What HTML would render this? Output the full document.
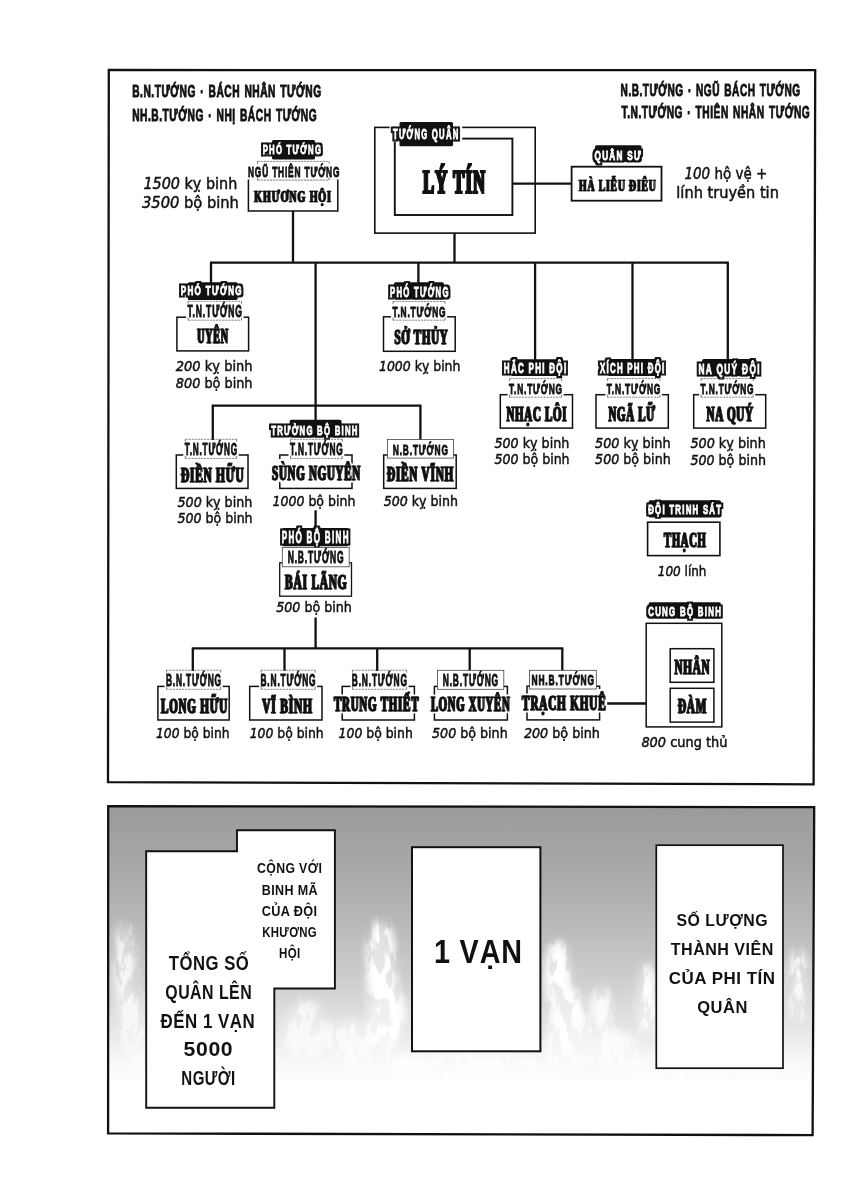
<!DOCTYPE html>
<html lang="vi">
<head>
<meta charset="utf-8">
<title>Sơ đồ Phi Tín Quân</title>
<style>
html,body{margin:0;padding:0;background:#fff;}
body{width:850px;height:1200px;overflow:hidden;}
svg{display:block;filter:grayscale(1);}
text{font-kerning:normal;}
.lg{font-family:"Liberation Sans",sans-serif;font-weight:700;fill:#111;stroke:#111;stroke-width:0.9px;letter-spacing:0.05em;word-spacing:0.1em;}
.bl{font-family:"Liberation Sans",sans-serif;font-weight:700;fill:#fff;stroke:#fff;stroke-width:0.9px;letter-spacing:0.16em;filter:url(#ol);}
.lbh .bl{filter:url(#olh);}
.rk{font-family:"Liberation Sans",sans-serif;font-weight:700;fill:#111;letter-spacing:0.1em;stroke:#111;stroke-width:0.95px;}
.nm,.nmh,.nmL,.nmS{font-family:"Liberation Serif",serif;font-weight:700;fill:#111;letter-spacing:0.07em;stroke:#111;stroke-width:0.8px;stroke-linejoin:miter;stroke-miterlimit:2;filter:url(#fat);}
.nmh{filter:url(#nh);}
.nmL{stroke-width:2px;}
.nmS{stroke-width:0.6px;letter-spacing:0.09em;filter:url(#fat2);}
.hd{font-family:"DejaVu Sans","Liberation Sans",sans-serif;font-weight:400;fill:#111;stroke:#111;stroke-width:0.5px;}
.it{font-style:italic;}
.cm{font-family:"Liberation Sans",sans-serif;font-weight:700;fill:#111;letter-spacing:0.03em;}
</style>
</head>
<body>
<svg width="850" height="1200" viewBox="0 0 850 1200">
<defs>
<linearGradient id="bg" x1="0" y1="0" x2="0" y2="1">
<stop offset="0" stop-color="#9a9a9a"/>
<stop offset="0.21" stop-color="#aaaaaa"/>
<stop offset="0.384" stop-color="#bcbcbc"/>
<stop offset="0.555" stop-color="#d2d2d2"/>
<stop offset="0.672" stop-color="#e5e5e5"/>
<stop offset="0.75" stop-color="#f3f3f3"/>
<stop offset="0.84" stop-color="#ffffff"/>
<stop offset="1" stop-color="#ffffff"/>
</linearGradient>
<clipPath id="pclip"><polygon points="108.2,806.2 814.2,807.1 812.6,1135.1 108.1,1133.4"/></clipPath>
<filter id="blur" x="-20%" y="-20%" width="140%" height="140%"><feGaussianBlur stdDeviation="5"/></filter>
<filter id="wisp" x="0" y="0" width="100%" height="100%" color-interpolation-filters="sRGB"><feTurbulence type="fractalNoise" baseFrequency="0.09 0.035" numOctaves="4" seed="11" result="n"/><feColorMatrix in="n" type="matrix" values="0 0 0 0 1  0 0 0 0 1  0 0 0 0 1  9 0 0 0 -3.9"/></filter>
<filter id="ol" x="-10%" y="-40%" width="120%" height="180%" color-interpolation-filters="sRGB"><feMorphology in="SourceAlpha" operator="dilate" radius="2" result="d"/><feFlood flood-color="#111"/><feComposite in2="d" operator="in" result="o"/><feMerge><feMergeNode in="o"/><feMergeNode in="SourceGraphic"/></feMerge></filter>
<filter id="olh" x="-10%" y="-40%" width="120%" height="180%" color-interpolation-filters="sRGB"><feMorphology in="SourceAlpha" operator="dilate" radius="3" result="d2"/><feFlood flood-color="#fff"/><feComposite in2="d2" operator="in" result="h"/><feMorphology in="SourceAlpha" operator="dilate" radius="2" result="d"/><feFlood flood-color="#111"/><feComposite in2="d" operator="in" result="o"/><feMerge><feMergeNode in="h"/><feMergeNode in="o"/><feMergeNode in="SourceGraphic"/></feMerge></filter>
<filter id="fat2" x="-10%" y="-40%" width="120%" height="180%" color-interpolation-filters="sRGB"><feOffset in="SourceGraphic" dx="0.5" dy="0" result="a"/><feMerge><feMergeNode in="SourceGraphic"/><feMergeNode in="a"/></feMerge></filter>
<filter id="fat" x="-10%" y="-40%" width="120%" height="180%" color-interpolation-filters="sRGB"><feOffset in="SourceGraphic" dx="0.8" dy="0" result="a"/><feMerge><feMergeNode in="SourceGraphic"/><feMergeNode in="a"/></feMerge></filter>
<filter id="nh" x="-10%" y="-40%" width="120%" height="180%" color-interpolation-filters="sRGB"><feMorphology in="SourceAlpha" operator="dilate" radius="2" result="d"/><feFlood flood-color="#fff"/><feComposite in2="d" operator="in" result="h"/><feOffset in="SourceGraphic" dx="0.8" dy="0" result="a"/><feMerge><feMergeNode in="h"/><feMergeNode in="SourceGraphic"/><feMergeNode in="a"/></feMerge></filter>
</defs>
<rect width="850" height="1200" fill="#fff"/>
<polygon points="108.8,70 815.2,70.2 813.6,784.3 108,782.2" fill="#fff" stroke="#111" stroke-width="2.3"/>
<text class="lg" x="132.2" y="97.0" font-size="17.0" textLength="189.4" lengthAdjust="spacingAndGlyphs">B.N.TƯỚNG · BÁCH NHÂN TƯỚNG</text>
<text class="lg" x="132.2" y="120.8" font-size="17.0" textLength="185.0" lengthAdjust="spacingAndGlyphs">NH.B.TƯỚNG · NHỊ BÁCH TƯỚNG</text>
<text class="lg" x="620.6" y="96.0" font-size="17.0" textLength="180.0" lengthAdjust="spacingAndGlyphs">N.B.TƯỚNG · NGŨ BÁCH TƯỚNG</text>
<text class="lg" x="621.6" y="118.2" font-size="17.0" textLength="188.6" lengthAdjust="spacingAndGlyphs">T.N.TƯỚNG · THIÊN NHÂN TƯỚNG</text>
<line x1="293.0" y1="210.0" x2="293.0" y2="262.6" stroke="#111" stroke-width="2.3"/>
<line x1="454.5" y1="233.0" x2="454.5" y2="262.6" stroke="#111" stroke-width="2.3"/>
<line x1="210.0" y1="262.6" x2="728.8" y2="262.6" stroke="#111" stroke-width="2.3"/>
<line x1="211.0" y1="262.6" x2="211.0" y2="284.0" stroke="#111" stroke-width="2.3"/>
<line x1="315.6" y1="262.6" x2="315.6" y2="420.5" stroke="#111" stroke-width="2.3"/>
<line x1="418.4" y1="262.6" x2="418.4" y2="283.0" stroke="#111" stroke-width="2.3"/>
<line x1="535.1" y1="262.6" x2="535.1" y2="361.0" stroke="#111" stroke-width="2.3"/>
<line x1="632.5" y1="262.6" x2="632.5" y2="360.0" stroke="#111" stroke-width="2.3"/>
<line x1="727.8" y1="262.6" x2="727.8" y2="360.0" stroke="#111" stroke-width="2.3"/>
<line x1="211.8" y1="405.6" x2="421.4" y2="405.6" stroke="#111" stroke-width="2.3"/>
<line x1="212.8" y1="405.6" x2="212.8" y2="440.0" stroke="#111" stroke-width="2.3"/>
<line x1="420.4" y1="405.6" x2="420.4" y2="440.0" stroke="#111" stroke-width="2.3"/>
<line x1="315.6" y1="510.3" x2="315.6" y2="529.0" stroke="#111" stroke-width="2.3"/>
<line x1="315.6" y1="617.4" x2="315.6" y2="648.3" stroke="#111" stroke-width="2.3"/>
<line x1="191.8" y1="648.3" x2="563.3" y2="648.3" stroke="#111" stroke-width="2.3"/>
<line x1="192.8" y1="648.3" x2="192.8" y2="671.0" stroke="#111" stroke-width="2.3"/>
<line x1="284.5" y1="648.3" x2="284.5" y2="671.0" stroke="#111" stroke-width="2.3"/>
<line x1="377.2" y1="648.3" x2="377.2" y2="671.0" stroke="#111" stroke-width="2.3"/>
<line x1="469.7" y1="648.3" x2="469.7" y2="671.0" stroke="#111" stroke-width="2.3"/>
<line x1="562.3" y1="648.3" x2="562.3" y2="671.0" stroke="#111" stroke-width="2.3"/>
<rect x="374.8" y="127.4" width="160.4" height="105.7" fill="#fff" stroke="#111" stroke-width="1.6"/>
<rect x="394.8" y="138.6" width="117.6" height="76.4" fill="#fff" stroke="#111" stroke-width="1.9"/>
<line x1="512.0" y1="183.6" x2="572.0" y2="183.6" stroke="#111" stroke-width="2.3"/>
<line x1="607.2" y1="703.5" x2="646.0" y2="703.5" stroke="#111" stroke-width="2.3"/>
<rect x="389.6" y="125.4" width="72.6" height="16.4" fill="#fff"/>
<rect x="399.5" y="122.0" width="53.5" height="24.3" fill="#111" rx="1.5"/>
<text class="bl" x="393.0" y="138.8" font-size="14.4" textLength="66.5" lengthAdjust="spacingAndGlyphs">TƯỚNG QUÂN</text>
<text class="nmL" x="422.6" y="192.8" font-size="32.8" textLength="63.0" lengthAdjust="spacingAndGlyphs">LÝ TÍN</text>
<rect x="248.4" y="178.4" width="89.4" height="32.6" fill="#fff" stroke="#111" stroke-width="1.5"/>
<rect x="272.0" y="140.1" width="43.0" height="19.4" fill="#111" rx="1.5"/>
<text class="bl" x="262.7" y="154.2" font-size="13.4" textLength="59.5" lengthAdjust="spacingAndGlyphs">PHÓ TƯỚNG</text>
<rect x="246.6" y="165.0" width="94.5" height="14.5" fill="#fff"/>
<path d="M257.5 161.4H329.0M257.5 180.2H329.0" stroke="#555" stroke-width="0.7" stroke-dasharray="2.2 0.9" fill="none"/>
<path d="M257.5 161.4v2.4M329.0 161.4v2.4M257.5 180.2v-2.6M329.0 180.2v-2.6" stroke="#444" stroke-width="0.7" fill="none"/>
<text class="rk" x="248.0" y="176.8" font-size="15.4" textLength="92.3" lengthAdjust="spacingAndGlyphs">NGŨ THIÊN TƯỚNG</text>
<text class="nmS" x="253.8" y="201.5" font-size="17.4" textLength="77.6" lengthAdjust="spacingAndGlyphs">KHƯƠNG HỘI</text>
<text class="hd" x="143.4" y="188.8" font-size="16.0" textLength="93.9" lengthAdjust="spacingAndGlyphs"><tspan class="it">1500</tspan> kỵ binh</text>
<text class="hd" x="142.0" y="208.2" font-size="16.0" textLength="96.9" lengthAdjust="spacingAndGlyphs"><tspan class="it">3500</tspan> bộ binh</text>
<rect x="571.6" y="166.7" width="89.9" height="34.0" fill="#fff" stroke="#111" stroke-width="1.8"/>
<rect x="595.0" y="145.3" width="46.5" height="16.7" fill="#111" rx="1.5"/>
<text class="bl" x="594.5" y="159.6" font-size="12.9" textLength="47.6" lengthAdjust="spacingAndGlyphs">QUÂN SƯ</text>
<text class="nmS" x="578.6" y="190.7" font-size="17.7" textLength="77.6" lengthAdjust="spacingAndGlyphs">HÀ LIỄU ĐIÊU</text>
<text class="hd" x="684.5" y="178.8" font-size="16.0" textLength="82.8" lengthAdjust="spacingAndGlyphs"><tspan class="it">100</tspan> hộ vệ +</text>
<text class="hd" x="676.3" y="198.3" font-size="16.0" textLength="102.6" lengthAdjust="spacingAndGlyphs">lính truyền tin</text>
<rect x="176.9" y="317.2" width="71.7" height="33.7" fill="#fff" stroke="#111" stroke-width="1.5"/>
<rect x="187.8" y="282.3" width="49.8" height="17.7" fill="#111" rx="1.5"/>
<text class="bl" x="180.8" y="295.2" font-size="12.9" textLength="62.1" lengthAdjust="spacingAndGlyphs">PHÓ TƯỚNG</text>
<rect x="186.1" y="304.9" width="57.4" height="14.6" fill="#fff"/>
<path d="M188.1 301.3H241.5M188.1 320.2H241.5" stroke="#555" stroke-width="0.7" stroke-dasharray="2.2 0.9" fill="none"/>
<path d="M188.1 301.3v2.4M241.5 301.3v2.4M188.1 320.2v-2.6M241.5 320.2v-2.6" stroke="#444" stroke-width="0.7" fill="none"/>
<text class="rk" x="187.5" y="316.8" font-size="15.6" textLength="55.2" lengthAdjust="spacingAndGlyphs">T.N.TƯỚNG</text>
<text class="nm" x="196.8" y="342.6" font-size="20.9" textLength="31.3" lengthAdjust="spacingAndGlyphs">UYÊN</text>
<text class="hd" x="175.8" y="371.3" font-size="14.6" textLength="76.7" lengthAdjust="spacingAndGlyphs"><tspan class="it">200</tspan> kỵ binh</text>
<text class="hd" x="175.8" y="387.7" font-size="14.6" textLength="76.7" lengthAdjust="spacingAndGlyphs"><tspan class="it">800</tspan> bộ binh</text>
<rect x="383.5" y="316.8" width="71.7" height="34.5" fill="#fff" stroke="#111" stroke-width="1.5"/>
<rect x="394.1" y="282.3" width="49.8" height="17.2" fill="#111" rx="1.5"/>
<text class="bl" x="390.0" y="296.7" font-size="14.8" textLength="59.8" lengthAdjust="spacingAndGlyphs">PHÓ TƯỚNG</text>
<rect x="391.0" y="305.1" width="56.1" height="14.4" fill="#fff"/>
<path d="M393.0 301.5H445.1M393.0 320.2H445.1" stroke="#555" stroke-width="0.7" stroke-dasharray="2.2 0.9" fill="none"/>
<path d="M393.0 301.5v2.4M445.1 301.5v2.4M393.0 320.2v-2.6M445.1 320.2v-2.6" stroke="#444" stroke-width="0.7" fill="none"/>
<text class="rk" x="392.4" y="316.8" font-size="15.3" textLength="53.9" lengthAdjust="spacingAndGlyphs">T.N.TƯỚNG</text>
<text class="nm" x="393.9" y="344.4" font-size="21.7" textLength="54.1" lengthAdjust="spacingAndGlyphs">SỞ THỦY</text>
<text class="hd" x="379.0" y="371.2" font-size="14.6" textLength="81.4" lengthAdjust="spacingAndGlyphs"><tspan class="it">1000</tspan> kỵ binh</text>
<rect x="500.3" y="394.7" width="72.2" height="33.4" fill="#fff" stroke="#111" stroke-width="1.5"/>
<rect x="511.5" y="359.2" width="46.3" height="16.7" fill="#111" rx="1.5"/>
<text class="bl" x="503.8" y="373.1" font-size="14.1" textLength="63.6" lengthAdjust="spacingAndGlyphs">HẮC PHI ĐỘI</text>
<rect x="507.6" y="382.2" width="56.1" height="14.3" fill="#fff"/>
<path d="M509.6 378.6H561.7M509.6 397.2H561.7" stroke="#555" stroke-width="0.7" stroke-dasharray="2.2 0.9" fill="none"/>
<path d="M509.6 378.6v2.4M561.7 378.6v2.4M509.6 397.2v-2.6M561.7 397.2v-2.6" stroke="#444" stroke-width="0.7" fill="none"/>
<text class="rk" x="509.0" y="393.8" font-size="15.1" textLength="53.9" lengthAdjust="spacingAndGlyphs">T.N.TƯỚNG</text>
<text class="nm" x="505.9" y="420.6" font-size="20.9" textLength="60.9" lengthAdjust="spacingAndGlyphs">NHẠC LÔI</text>
<text class="hd" x="494.4" y="447.7" font-size="14.6" textLength="74.9" lengthAdjust="spacingAndGlyphs"><tspan class="it">500</tspan> kỵ binh</text>
<text class="hd" x="494.4" y="463.9" font-size="14.6" textLength="75.2" lengthAdjust="spacingAndGlyphs"><tspan class="it">500</tspan> bộ binh</text>
<rect x="596.0" y="394.7" width="72.3" height="33.4" fill="#fff" stroke="#111" stroke-width="1.5"/>
<rect x="608.0" y="359.1" width="53.0" height="16.8" fill="#111" rx="1.5"/>
<text class="bl" x="600.0" y="373.1" font-size="14.2" textLength="65.5" lengthAdjust="spacingAndGlyphs">XÍCH PHI ĐỘI</text>
<rect x="605.4" y="382.2" width="56.6" height="14.3" fill="#fff"/>
<path d="M607.4 378.6H660.0M607.4 397.2H660.0" stroke="#555" stroke-width="0.7" stroke-dasharray="2.2 0.9" fill="none"/>
<path d="M607.4 378.6v2.4M660.0 378.6v2.4M607.4 397.2v-2.6M660.0 397.2v-2.6" stroke="#444" stroke-width="0.7" fill="none"/>
<text class="rk" x="606.8" y="393.8" font-size="15.1" textLength="54.4" lengthAdjust="spacingAndGlyphs">T.N.TƯỚNG</text>
<text class="nm" x="608.0" y="420.6" font-size="20.9" textLength="47.1" lengthAdjust="spacingAndGlyphs">NGÃ LỮ</text>
<text class="hd" x="595.1" y="447.7" font-size="14.6" textLength="75.4" lengthAdjust="spacingAndGlyphs"><tspan class="it">500</tspan> kỵ binh</text>
<text class="hd" x="595.1" y="463.9" font-size="14.6" textLength="75.6" lengthAdjust="spacingAndGlyphs"><tspan class="it">500</tspan> bộ binh</text>
<rect x="693.7" y="394.7" width="72.0" height="33.4" fill="#fff" stroke="#111" stroke-width="1.5"/>
<rect x="702.2" y="359.1" width="50.8" height="17.2" fill="#111" rx="1.5"/>
<text class="bl" x="698.5" y="373.5" font-size="14.8" textLength="62.3" lengthAdjust="spacingAndGlyphs">NA QUÝ ĐỘI</text>
<rect x="699.1" y="382.2" width="56.1" height="14.3" fill="#fff"/>
<path d="M701.1 378.6H753.2M701.1 397.2H753.2" stroke="#555" stroke-width="0.7" stroke-dasharray="2.2 0.9" fill="none"/>
<path d="M701.1 378.6v2.4M753.2 378.6v2.4M701.1 397.2v-2.6M753.2 397.2v-2.6" stroke="#444" stroke-width="0.7" fill="none"/>
<text class="rk" x="700.5" y="393.8" font-size="15.1" textLength="53.9" lengthAdjust="spacingAndGlyphs">T.N.TƯỚNG</text>
<text class="nm" x="705.9" y="420.6" font-size="20.9" textLength="47.5" lengthAdjust="spacingAndGlyphs">NA QUÝ</text>
<text class="hd" x="690.4" y="448.1" font-size="14.6" textLength="75.4" lengthAdjust="spacingAndGlyphs"><tspan class="it">500</tspan> kỵ binh</text>
<text class="hd" x="690.4" y="464.6" font-size="14.6" textLength="75.6" lengthAdjust="spacingAndGlyphs"><tspan class="it">500</tspan> bộ binh</text>
<rect x="176.3" y="455.0" width="71.7" height="33.4" fill="#fff" stroke="#111" stroke-width="1.5"/>
<rect x="183.3" y="442.9" width="55.4" height="14.8" fill="#fff"/>
<path d="M185.3 439.3H236.7M185.3 458.4H236.7" stroke="#555" stroke-width="0.7" stroke-dasharray="2.2 0.9" fill="none"/>
<path d="M185.3 439.3v2.4M236.7 439.3v2.4M185.3 458.4v-2.6M236.7 458.4v-2.6" stroke="#444" stroke-width="0.7" fill="none"/>
<text class="rk" x="184.7" y="455.0" font-size="15.8" textLength="53.2" lengthAdjust="spacingAndGlyphs">T.N.TƯỚNG</text>
<text class="nm" x="180.5" y="481.6" font-size="20.9" textLength="63.5" lengthAdjust="spacingAndGlyphs">ĐIỀN HỮU</text>
<text class="hd" x="177.5" y="506.5" font-size="14.6" textLength="74.8" lengthAdjust="spacingAndGlyphs"><tspan class="it">500</tspan> kỵ binh</text>
<text class="hd" x="177.5" y="523.3" font-size="14.6" textLength="75.1" lengthAdjust="spacingAndGlyphs"><tspan class="it">500</tspan> bộ binh</text>
<rect x="279.8" y="455.0" width="72.2" height="33.4" fill="#fff" stroke="#111" stroke-width="1.5"/>
<rect x="289.7" y="419.7" width="51.8" height="17.7" fill="#111" rx="1.5"/>
<text class="bl" x="271.2" y="434.6" font-size="13.1" textLength="87.4" lengthAdjust="spacingAndGlyphs">TRƯỞNG BỘ BINH</text>
<rect x="288.5" y="442.9" width="55.8" height="14.8" fill="#fff"/>
<path d="M290.5 439.3H342.3M290.5 458.4H342.3" stroke="#555" stroke-width="0.7" stroke-dasharray="2.2 0.9" fill="none"/>
<path d="M290.5 439.3v2.4M342.3 439.3v2.4M290.5 458.4v-2.6M342.3 458.4v-2.6" stroke="#444" stroke-width="0.7" fill="none"/>
<text class="rk" x="289.9" y="455.0" font-size="15.8" textLength="53.6" lengthAdjust="spacingAndGlyphs">T.N.TƯỚNG</text>
<text class="nmh" x="271.6" y="479.8" font-size="21.1" textLength="88.9" lengthAdjust="spacingAndGlyphs">SÙNG NGUYÊN</text>
<text class="hd" x="272.5" y="505.6" font-size="14.6" textLength="82.9" lengthAdjust="spacingAndGlyphs"><tspan class="it">1000</tspan> bộ binh</text>
<rect x="383.7" y="455.0" width="72.5" height="33.4" fill="#fff" stroke="#111" stroke-width="1.5"/>
<rect x="387.4" y="439.4" width="66.2" height="18.7" fill="#fff" stroke="#444" stroke-width="0.8"/>
<text class="rk" x="392.8" y="454.5" font-size="15.1" textLength="56.0" lengthAdjust="spacingAndGlyphs">N.B.TƯỚNG</text>
<text class="nm" x="386.5" y="481.2" font-size="21.4" textLength="67.1" lengthAdjust="spacingAndGlyphs">ĐIỀN VĨNH</text>
<text class="hd" x="383.7" y="506.1" font-size="14.6" textLength="74.4" lengthAdjust="spacingAndGlyphs"><tspan class="it">500</tspan> kỵ binh</text>
<rect x="279.7" y="562.8" width="71.8" height="33.4" fill="#fff" stroke="#111" stroke-width="1.3"/>
<rect x="282.2" y="528.0" width="66.3" height="18.3" fill="#111" rx="1.5"/>
<text class="bl" x="281.7" y="543.4" font-size="16.4" textLength="68.1" lengthAdjust="spacingAndGlyphs">PHÓ BỘ BINH</text>
<rect x="282.3" y="547.6" width="66.9" height="19.2" fill="#fff" stroke="#444" stroke-width="0.8"/>
<text class="rk" x="287.7" y="563.2" font-size="15.8" textLength="56.7" lengthAdjust="spacingAndGlyphs">N.B.TƯỚNG</text>
<text class="nm" x="284.6" y="588.7" font-size="20.3" textLength="62.4" lengthAdjust="spacingAndGlyphs">BÁI LÃNG</text>
<text class="hd" x="276.2" y="612.0" font-size="14.6" textLength="75.6" lengthAdjust="spacingAndGlyphs"><tspan class="it">500</tspan> bộ binh</text>
<rect x="157.9" y="686.4" width="71.3" height="33.6" fill="#fff" stroke="#111" stroke-width="1.5"/>
<rect x="164.5" y="673.8" width="58.2" height="14.8" fill="#fff"/>
<path d="M166.5 670.2H220.7M166.5 689.3H220.7" stroke="#555" stroke-width="0.7" stroke-dasharray="2.2 0.9" fill="none"/>
<path d="M166.5 670.2v2.4M220.7 670.2v2.4M166.5 689.3v-2.6M220.7 689.3v-2.6" stroke="#444" stroke-width="0.7" fill="none"/>
<text class="rk" x="165.9" y="685.9" font-size="15.8" textLength="56.0" lengthAdjust="spacingAndGlyphs">B.N.TƯỚNG</text>
<text class="nm" x="160.5" y="712.6" font-size="20.5" textLength="67.1" lengthAdjust="spacingAndGlyphs">LONG HỮU</text>
<text class="hd" x="156.0" y="738.1" font-size="14.6" textLength="73.5" lengthAdjust="spacingAndGlyphs"><tspan class="it">100</tspan> bộ binh</text>
<rect x="249.7" y="686.4" width="72.3" height="33.6" fill="#fff" stroke="#111" stroke-width="1.5"/>
<rect x="259.1" y="673.8" width="58.1" height="14.8" fill="#fff"/>
<path d="M261.1 670.2H315.2M261.1 689.3H315.2" stroke="#555" stroke-width="0.7" stroke-dasharray="2.2 0.9" fill="none"/>
<path d="M261.1 670.2v2.4M315.2 670.2v2.4M261.1 689.3v-2.6M315.2 689.3v-2.6" stroke="#444" stroke-width="0.7" fill="none"/>
<text class="rk" x="260.5" y="685.9" font-size="15.8" textLength="55.9" lengthAdjust="spacingAndGlyphs">B.N.TƯỚNG</text>
<text class="nm" x="261.7" y="712.6" font-size="20.5" textLength="50.5" lengthAdjust="spacingAndGlyphs">VĨ BÌNH</text>
<text class="hd" x="249.7" y="738.1" font-size="14.6" textLength="74.0" lengthAdjust="spacingAndGlyphs"><tspan class="it">100</tspan> bộ binh</text>
<rect x="342.2" y="686.4" width="72.2" height="33.6" fill="#fff" stroke="#111" stroke-width="1.5"/>
<rect x="350.4" y="673.8" width="58.2" height="14.8" fill="#fff"/>
<path d="M352.4 670.2H406.6M352.4 689.3H406.6" stroke="#555" stroke-width="0.7" stroke-dasharray="2.2 0.9" fill="none"/>
<path d="M352.4 670.2v2.4M406.6 670.2v2.4M352.4 689.3v-2.6M406.6 689.3v-2.6" stroke="#444" stroke-width="0.7" fill="none"/>
<text class="rk" x="351.8" y="685.9" font-size="15.8" textLength="56.0" lengthAdjust="spacingAndGlyphs">B.N.TƯỚNG</text>
<text class="nmh" x="333.4" y="710.6" font-size="20.2" textLength="85.4" lengthAdjust="spacingAndGlyphs">TRUNG THIẾT</text>
<text class="hd" x="338.6" y="738.1" font-size="14.6" textLength="74.2" lengthAdjust="spacingAndGlyphs"><tspan class="it">100</tspan> bộ binh</text>
<rect x="434.4" y="686.4" width="73.0" height="33.6" fill="#fff" stroke="#111" stroke-width="1.5"/>
<rect x="437.4" y="670.3" width="66.4" height="19.0" fill="#fff" stroke="#444" stroke-width="0.8"/>
<text class="rk" x="442.8" y="685.7" font-size="15.6" textLength="56.2" lengthAdjust="spacingAndGlyphs">N.B.TƯỚNG</text>
<text class="nmh" x="430.4" y="711.4" font-size="21.4" textLength="79.5" lengthAdjust="spacingAndGlyphs">LONG XUYÊN</text>
<text class="hd" x="432.0" y="738.1" font-size="14.6" textLength="75.7" lengthAdjust="spacingAndGlyphs"><tspan class="it">500</tspan> bộ binh</text>
<rect x="527.0" y="686.2" width="72.6" height="33.7" fill="#fff" stroke="#111" stroke-width="1.5"/>
<rect x="529.5" y="670.3" width="66.8" height="18.7" fill="#fff" stroke="#444" stroke-width="0.8"/>
<text class="rk" x="531.5" y="685.4" font-size="15.1" textLength="63.4" lengthAdjust="spacingAndGlyphs">NH.B.TƯỚNG</text>
<text class="nmh" x="521.6" y="710.4" font-size="21.5" textLength="84.4" lengthAdjust="spacingAndGlyphs">TRẠCH KHUÊ</text>
<text class="hd" x="523.9" y="737.9" font-size="14.6" textLength="76.0" lengthAdjust="spacingAndGlyphs"><tspan class="it">200</tspan> bộ binh</text>
<rect x="647.6" y="522.2" width="72.3" height="33.4" fill="#fff" stroke="#111" stroke-width="1.6"/>
<rect x="648.7" y="500.2" width="72.3" height="17.3" fill="#111" rx="1.5"/>
<text class="bl" x="648.2" y="513.8" font-size="12.9" textLength="74.1" lengthAdjust="spacingAndGlyphs">ĐỘI TRINH SÁT</text>
<text class="nm" x="663.6" y="546.8" font-size="21.4" textLength="42.4" lengthAdjust="spacingAndGlyphs">THẠCH</text>
<text class="hd" x="657.8" y="576.2" font-size="14.6" textLength="48.7" lengthAdjust="spacingAndGlyphs"><tspan class="it">100</tspan> lính</text>
<rect x="646.2" y="623.3" width="75.6" height="103.6" fill="#fff" stroke="#111" stroke-width="1.5"/>
<rect x="648.7" y="602.2" width="72.1" height="16.2" fill="#111" rx="1.5"/>
<text class="bl" x="648.2" y="615.5" font-size="13.4" textLength="73.9" lengthAdjust="spacingAndGlyphs">CUNG BỘ BINH</text>
<rect x="670.2" y="648.7" width="43.7" height="33.6" fill="#fff" stroke="#111" stroke-width="1.5"/>
<rect x="670.2" y="688.3" width="43.7" height="33.8" fill="#fff" stroke="#111" stroke-width="1.5"/>
<text class="nm" x="674.0" y="673.7" font-size="21.5" textLength="35.9" lengthAdjust="spacingAndGlyphs">NHÂN</text>
<text class="nm" x="677.4" y="713.0" font-size="21.2" textLength="29.1" lengthAdjust="spacingAndGlyphs">ĐÀM</text>
<text class="hd" x="641.4" y="747.2" font-size="14.6" textLength="86.1" lengthAdjust="spacingAndGlyphs"><tspan class="it">800</tspan> cung thủ</text>
<polygon points="108.2,806.2 814.2,807.1 812.6,1135.1 108.1,1133.4" fill="url(#bg)"/>
<mask id="fmask" maskUnits="userSpaceOnUse" x="108" y="806" width="708" height="328"><g filter="url(#blur)" fill="#fff">
<ellipse cx="125" cy="965" rx="10" ry="42" opacity="0.75"/>
<ellipse cx="132" cy="1020" rx="14" ry="30" opacity="0.6"/>
<ellipse cx="381" cy="965" rx="14" ry="44" opacity="1.0"/>
<ellipse cx="386" cy="1015" rx="18" ry="38" opacity="1.0"/>
<ellipse cx="305" cy="1030" rx="22" ry="30" opacity="0.6"/>
<ellipse cx="350" cy="1040" rx="25" ry="22" opacity="0.6"/>
<ellipse cx="558" cy="975" rx="12" ry="34" opacity="1.0"/>
<ellipse cx="568" cy="1018" rx="18" ry="30" opacity="0.9"/>
<ellipse cx="602" cy="1008" rx="10" ry="20" opacity="0.8"/>
<ellipse cx="647" cy="1000" rx="9" ry="36" opacity="0.9"/>
<ellipse cx="590" cy="1045" rx="45" ry="18" opacity="0.7"/>
<ellipse cx="798" cy="985" rx="9" ry="36" opacity="0.8"/>
<ellipse cx="200" cy="1062" rx="80" ry="14" opacity="0.5"/>
<ellipse cx="460" cy="1066" rx="120" ry="14" opacity="0.6"/>
<ellipse cx="700" cy="1066" rx="100" ry="14" opacity="0.5"/>
</g></mask>
<g clip-path="url(#pclip)">
<rect x="108.8" y="880" width="706.4" height="220" fill="#fff" opacity="0.55" mask="url(#fmask)"/>
<rect x="108.8" y="880" width="706.4" height="220" fill="#fff" filter="url(#wisp)" mask="url(#fmask)"/>
</g>
<polygon points="108.2,806.2 814.2,807.1 812.6,1135.1 108.1,1133.4" fill="none" stroke="#111" stroke-width="2.3"/>
<polygon points="146.2,851.2 237,851.2 237,830.2 334.9,830.2 334.9,988.5 274.3,988.5 274.3,1107.8 146.2,1107.8" fill="#fff" stroke="#111" stroke-width="1.9"/>
<rect x="412.0" y="847.2" width="128.4" height="204.1" fill="#fff" stroke="#111" stroke-width="2"/>
<rect x="656.3" y="845.2" width="126.7" height="223.0" fill="#fff" stroke="#111" stroke-width="1.7"/>
<text class="cm" x="257.0" y="873.0" font-size="13.8" textLength="65.3" lengthAdjust="spacingAndGlyphs">CỘNG VỚI</text>
<text class="cm" x="261.8" y="894.6" font-size="13.8" textLength="56.2" lengthAdjust="spacingAndGlyphs">BINH MÃ</text>
<text class="cm" x="261.8" y="915.8" font-size="13.8" textLength="55.7" lengthAdjust="spacingAndGlyphs">CỦA ĐỘI</text>
<text class="cm" x="262.2" y="937.0" font-size="13.8" textLength="54.9" lengthAdjust="spacingAndGlyphs">KHƯƠNG</text>
<text class="cm" x="279.0" y="957.6" font-size="13.8" textLength="21.5" lengthAdjust="spacingAndGlyphs">HỘI</text>
<text class="cm" x="168.8" y="969.9" font-size="20.0" textLength="80.5" lengthAdjust="spacingAndGlyphs">TỔNG SỐ</text>
<text class="cm" x="165.3" y="999.3" font-size="20.0" textLength="86.8" lengthAdjust="spacingAndGlyphs">QUÂN LÊN</text>
<text class="cm" x="160.6" y="1027.8" font-size="20.0" textLength="94.6" lengthAdjust="spacingAndGlyphs">ĐẾN 1 VẠN</text>
<text class="cm" x="183.6" y="1055.8" font-size="20.0" textLength="49.7" lengthAdjust="spacingAndGlyphs">5000</text>
<text class="cm" x="181.3" y="1085.4" font-size="20.0" textLength="54.4" lengthAdjust="spacingAndGlyphs">NGƯỜI</text>
<text class="cm" x="433.9" y="962.6" font-size="32.5" textLength="89.0" lengthAdjust="spacingAndGlyphs">1 VẠN</text>
<text class="cm" x="676.5" y="926.3" font-size="17.0" textLength="91.5" lengthAdjust="spacingAndGlyphs">SỐ LƯỢNG</text>
<text class="cm" x="670.8" y="955.4" font-size="17.0" textLength="103.0" lengthAdjust="spacingAndGlyphs">THÀNH VIÊN</text>
<text class="cm" x="668.8" y="984.2" font-size="17.0" textLength="106.7" lengthAdjust="spacingAndGlyphs">CỦA PHI TÍN</text>
<text class="cm" x="697.3" y="1013.3" font-size="17.0" textLength="50.5" lengthAdjust="spacingAndGlyphs">QUÂN</text>
</svg>
</body>
</html>
